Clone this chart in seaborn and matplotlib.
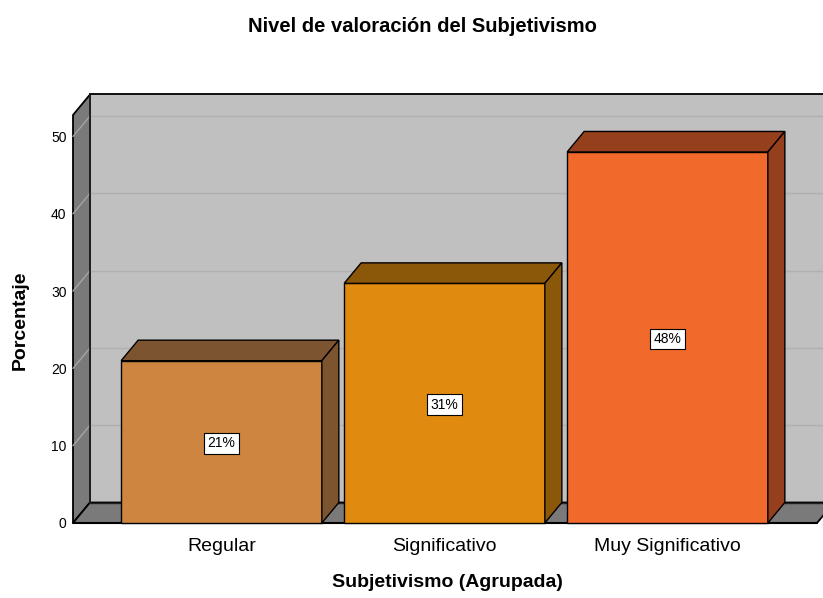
import matplotlib
matplotlib.use("Agg")
import matplotlib.pyplot as plt
from matplotlib.patches import Polygon
import seaborn as sns
import pandas as pd

categories = ["Regular", "Significativo", "Muy Significativo"]
percentages = [21, 31, 48]
bar_labels = ["21%", "31%", "48%"]
y_ticks = [0, 10, 20, 30, 40, 50]

title = "Nivel de valoración del Subjetivismo"
x_title = "Subjetivismo (Agrupada)"
y_title = "Porcentaje"

front_colors = ["#CD853F", "#E08B10", "#F2692C"]
shade_colors = ["#7D5430", "#8B5709", "#963F1D"]

sns.set_style("white")
plt.rcParams["font.family"] = ["Liberation Sans", "DejaVu Sans"]
plt.rcParams["text.color"] = "black"
plt.rcParams["axes.labelcolor"] = "black"
plt.rcParams["xtick.color"] = "black"
plt.rcParams["ytick.color"] = "black"

W, H = 823, 598
fig = plt.figure(figsize=(W / 100, H / 100), dpi=100)

# pixel mapping
px_per_unit_y = 7.73
y0_px = 523.0
x_center0 = 221.5
px_per_cat = 223.0
ylim = (-0.3, 55.6)
xl_px, xr_px = 72.0, 823.0
xlim = ((xl_px - x_center0) / px_per_cat, (xr_px - x_center0) / px_per_cat)
top_px = y0_px - ylim[1] * px_per_unit_y
bot_px = y0_px - ylim[0] * px_per_unit_y
ax = fig.add_axes([xl_px / W, 1 - bot_px / H, (xr_px - xl_px) / W, (bot_px - top_px) / H])

df = pd.DataFrame({"cat": categories, "pct": percentages})
sns.barplot(data=df, x="cat", y="pct", hue="cat", order=categories, hue_order=categories,
            palette=front_colors, saturation=1, width=0.9, edgecolor="black",
            linewidth=1.0, legend=False, ax=ax, zorder=5)

ax.set_xlim(*xlim)
ax.set_ylim(*ylim)
ax.set_facecolor("white")
for s in ax.spines.values():
    s.set_visible(False)

dx = 17.0 / px_per_cat
dy = 20.5 / px_per_unit_y
x_front = (73.0 - x_center0) / px_per_cat
x_floor_right = (817.0 - x_center0) / px_per_cat
top_front = (y0_px - 115.0) / px_per_unit_y
xmax = xlim[1] + 0.2

# back wall
ax.add_patch(Polygon([(x_front + dx, dy), (xmax, dy), (xmax, top_front + dy), (x_front + dx, top_front + dy)],
                     closed=True, facecolor="#C0C0C0", edgecolor="none", zorder=1))
# gridlines
for v in y_ticks[1:]:
    ax.plot([x_front + dx, xmax], [v + dy, v + dy], color="#B0B0B0", lw=1.0, zorder=1.5)
# left wall
ax.add_patch(Polygon([(x_front, 0), (x_front, top_front), (x_front + dx, top_front + dy), (x_front + dx, dy)],
                     closed=True, facecolor="#7A7A7A", edgecolor="black", lw=1.3, zorder=2))
for v in y_ticks[1:]:
    ax.plot([x_front, x_front + dx], [v, v + dy], color="#A4A4A4", lw=1.0, zorder=2.5)
# floor
ax.add_patch(Polygon([(x_front, 0), (x_floor_right, 0), (x_floor_right + dx, dy), (x_front + dx, dy)],
                     closed=True, facecolor="#7A7A7A", edgecolor="black", lw=1.3, zorder=2))
# back wall edges
ax.plot([x_front + dx, x_front + dx], [dy, top_front + dy], color="#222222", lw=1.3, zorder=3)
ax.plot([x_front + dx, xmax], [top_front + dy, top_front + dy], color="black", lw=1.3, zorder=3)
ax.plot([x_front + dx, xmax], [dy, dy], color="#222222", lw=1.0, zorder=3)
ax.plot([x_front, x_floor_right], [0, 0], color="black", lw=1.5, zorder=3)

# 3D faces of bars
bars = [p for p in ax.patches if p.__class__.__name__ == "Rectangle" and p.get_height() > 0 and p.get_width() < 1]
bars = sorted(bars, key=lambda p: p.get_x())
for i, p in enumerate(bars):
    x, w, h = p.get_x(), p.get_width(), p.get_height()
    ax.add_patch(Polygon([(x, h), (x + w, h), (x + w + dx, h + dy), (x + dx, h + dy)],
                         closed=True, facecolor=shade_colors[i], edgecolor="black", lw=1.0, zorder=6))
    ax.add_patch(Polygon([(x + w, 0), (x + w + dx, dy), (x + w + dx, h + dy), (x + w, h)],
                         closed=True, facecolor=shade_colors[i], edgecolor="black", lw=1.0, zorder=6))
    ax.text(x + w / 2, h / 2 - 0.2, bar_labels[i], ha="center", va="center", fontsize=10, zorder=8,
            bbox=dict(boxstyle="square,pad=0.25", facecolor="white", edgecolor="black", lw=0.8))

ax.set_yticks(y_ticks)
ax.set_yticklabels([str(v) for v in y_ticks])
ax.tick_params(axis="y", length=0, pad=4, labelsize=10)
ax.set_xticks(range(len(categories)))
ax.set_xticklabels(categories)
ax.tick_params(axis="x", length=0, pad=9, labelsize=14)
ax.set_xlabel(x_title, fontsize=14, fontweight="bold", labelpad=14)
ax.set_ylabel("")
fig.text(20 / W, 1 - 320 / H, y_title, rotation=90, fontsize=14, fontweight="bold", ha="center", va="center")
fig.text(0.5 * (245 + 600) / W, 1 - 27 / H, title, fontsize=14.5, fontweight="bold", ha="center", va="center")

fig.savefig("out.png", dpi=100)
